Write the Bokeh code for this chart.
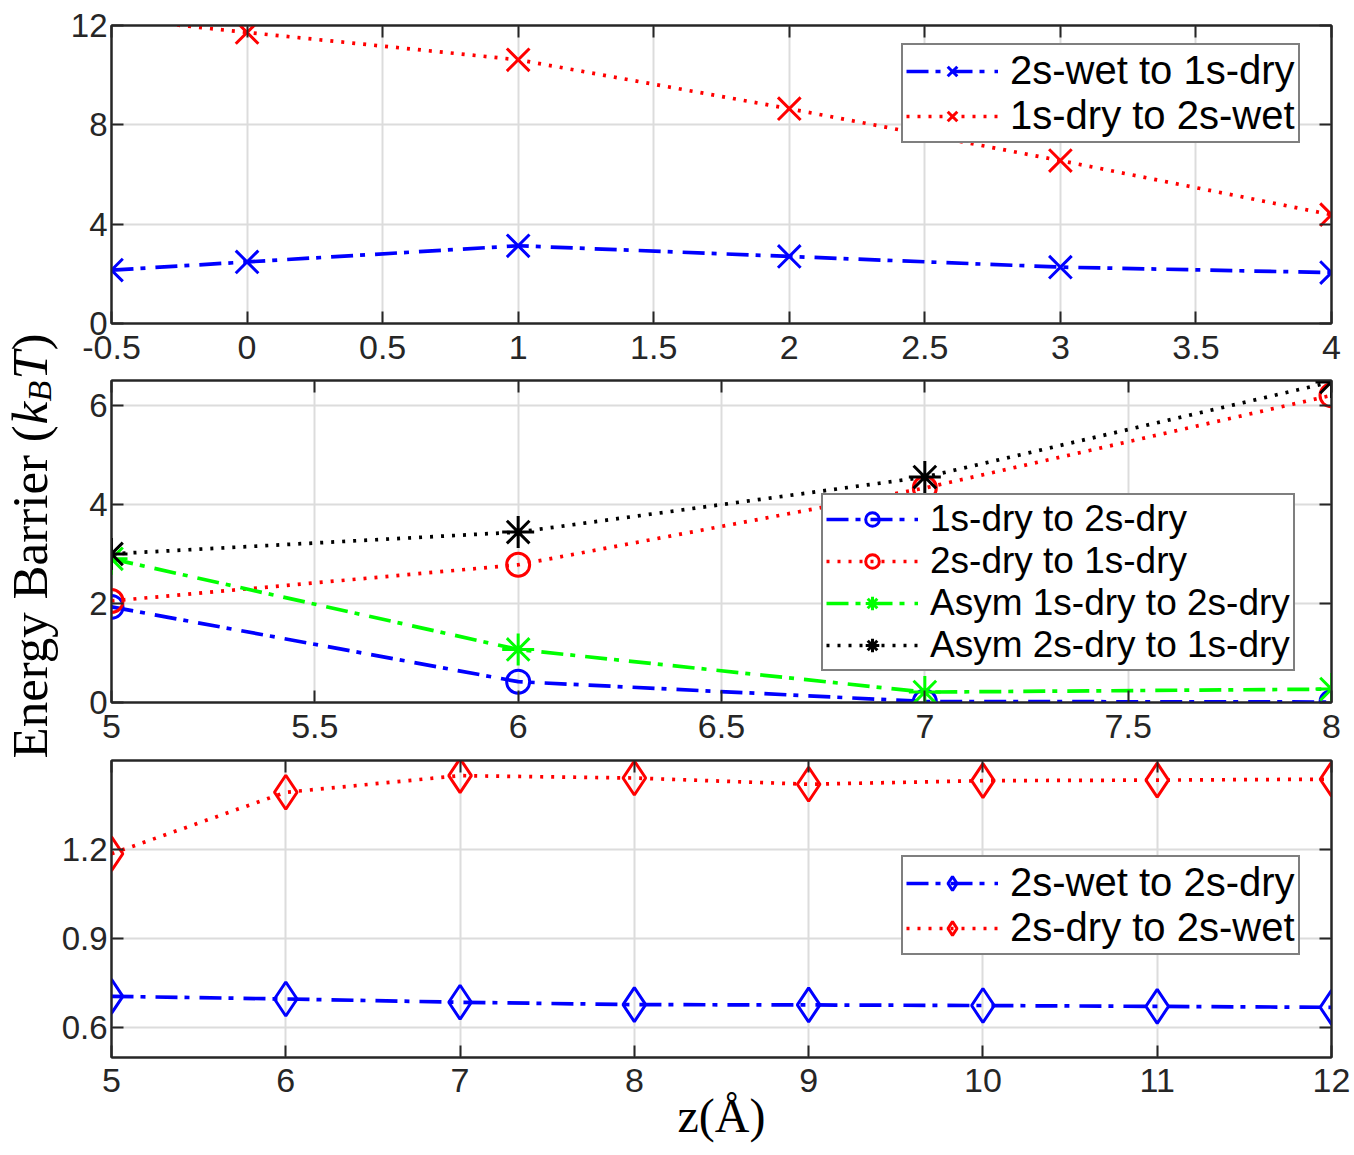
import math
from bokeh.plotting import figure
from bokeh.layouts import row, column
from bokeh.models import (Range1d, FixedTicker, LinearAxis, Legend, LegendItem,
                          Label, Grid, ColumnDataSource, CDSView, BooleanFilter)
from bokeh.embed import file_html
from bokeh.resources import INLINE

# ---------------- data ----------------
# Panel 1
z1 = [-0.5, 0, 1, 2, 3, 4]
wet2_to_dry1 = [2.15, 2.48, 3.13, 2.70, 2.27, 2.05]
dry1_to_wet2 = [12.3, 11.72, 10.62, 8.65, 6.56, 4.38]
# Panel 2
z2 = [5, 6, 7, 8]
dry1_to_dry2 = [1.93, 0.42, 0.02, 0.01]
dry2_to_dry1 = [2.05, 2.78, 4.33, 6.20]
asym_dry1_to_dry2 = [2.90, 1.07, 0.21, 0.27]
asym_dry2_to_dry1 = [3.00, 3.44, 4.55, 6.47]
# Panel 3
z3 = [5, 6, 7, 8, 9, 10, 11, 12]
wet2_to_dry2 = [0.706, 0.697, 0.686, 0.678, 0.677, 0.675, 0.672, 0.669]
dry2_to_wet2 = [1.186, 1.393, 1.449, 1.441, 1.420, 1.432, 1.434, 1.437]

# ticks
x1_ticks = [-0.5, 0, 0.5, 1, 1.5, 2, 2.5, 3, 3.5, 4]
x1_labels = ["-0.5", "0", "0.5", "1", "1.5", "2", "2.5", "3", "3.5", "4"]
y1_ticks = [0, 4, 8, 12]
y1_labels = ["0", "4", "8", "12"]
x2_ticks = [5, 5.5, 6, 6.5, 7, 7.5, 8]
x2_labels = ["5", "5.5", "6", "6.5", "7", "7.5", "8"]
y2_ticks = [0, 2, 4, 6]
y2_labels = ["0", "2", "4", "6"]
x3_ticks = [5, 6, 7, 8, 9, 10, 11, 12]
x3_labels = ["5", "6", "7", "8", "9", "10", "11", "12"]
y3_ticks = [0.6, 0.9, 1.2]
y3_labels = ["0.6", "0.9", "1.2"]

legend1 = ["2s-wet to 1s-dry", "1s-dry to 2s-wet"]
legend2 = ["1s-dry to 2s-dry", "2s-dry to 1s-dry", "Asym 1s-dry to 2s-dry", "Asym 2s-dry to 1s-dry"]
legend3 = ["2s-wet to 2s-dry", "2s-dry to 2s-wet"]
x_title = "z(Å)"

AX = "#262626"
TICK_FONT = "Liberation Sans"
SERIF = "Liberation Serif"
DASHDOT = "22 7 5 10"
DOT = "3 8"
LW = 3.7

STRIP_W = 58
BORDER_L = 50
BORDER_R = 23
PLOT_W = BORDER_L + 1223 + BORDER_R


def style_axis(ax, ticks, labels, show, standoff, fs):
    ax.ticker = FixedTicker(ticks=ticks)
    ax.axis_line_color = AX
    ax.axis_line_width = 2
    ax.major_tick_line_color = AX
    ax.major_tick_line_width = 2
    ax.major_tick_in = 12
    ax.major_tick_out = 0
    ax.minor_tick_line_color = None
    ax.major_label_text_font = TICK_FONT
    if show:
        ax.major_label_text_color = AX
        ax.major_label_text_font_size = fs
        ax.major_label_standoff = standoff
        ax.major_label_overrides = {t: l for t, l in zip(ticks, labels)}
    else:
        ax.major_label_text_color = None
        ax.major_label_text_font_size = "1px"
        ax.major_label_standoff = 0


def make_fig(xr, yr, xt, xl, yt, yl, height, bt, bb, xso):
    p = figure(width=PLOT_W, height=height,
               x_range=Range1d(*xr), y_range=Range1d(*yr),
               output_backend="svg", toolbar_location=None,
               x_axis_type=None, y_axis_type=None,
               min_border_left=BORDER_L, min_border_right=BORDER_R,
               min_border_top=bt, min_border_bottom=bb)
    p.outline_line_color = AX
    p.outline_line_width = 2
    p.background_fill_color = "white"
    p.border_fill_color = "white"
    axes = {}
    for side, ticks, labels, show, so, fs in [("below", xt, xl, True, xso, "34px"),
                                               ("left", yt, yl, True, 4, "33px"),
                                               ("above", xt, xl, False, 0, "1px"),
                                               ("right", yt, yl, False, 0, "1px")]:
        ax = LinearAxis()
        style_axis(ax, ticks, labels, show, so, fs)
        p.add_layout(ax, side)
        axes[side] = ax
    p.add_layout(Grid(dimension=0, ticker=FixedTicker(ticks=xt),
                      grid_line_color="#dcdcdc", grid_line_width=2))
    p.add_layout(Grid(dimension=1, ticker=FixedTicker(ticks=yt),
                      grid_line_color="#dcdcdc", grid_line_width=2))
    return p, axes


def series(p, x, y, color, dash, marker, size):
    src = ColumnDataSource(dict(x=x, y=y))
    lr = p.line("x", "y", source=src, line_color=color, line_width=LW, line_dash=dash)
    lo, hi = p.y_range.start, p.y_range.end
    # markers whose centre lies outside the axes are not drawn (as in the original)
    view = CDSView(filter=BooleanFilter([lo <= v <= hi for v in y]))
    sr = p.scatter("x", "y", source=src, view=view, marker=marker, size=size,
                   line_color=color, fill_color=None, line_width=3)
    return [lr, sr]


def make_legend(items, loc, fs):
    return Legend(items=items, location=loc, orientation="vertical",
                  label_text_font=TICK_FONT, label_text_font_size=fs,
                  label_text_color="black",
                  glyph_width=92, glyph_height=34, label_height=34,
                  label_standoff=12, spacing=0, padding=3, margin=0,
                  border_line_color="black", border_line_width=2,
                  background_fill_color="white", background_fill_alpha=1.0)


# ---------------- panel 1 ----------------
p1, a1 = make_fig((-0.5, 4), (0, 12), x1_ticks, x1_labels, y1_ticks, y1_labels, 379, 25, 56, 12)
r1a = series(p1, z1, wet2_to_dry1, "#0000ff", DASHDOT, "x", 32)
r1b = series(p1, z1, dry1_to_wet2, "#ff0000", DOT, "x", 32)
p1.add_layout(make_legend([LegendItem(label=legend1[0], renderers=r1a),
                           LegendItem(label=legend1[1], renderers=r1b)], (790, 180), "40px"))

# ---------------- panel 2 ----------------
p2, a2 = make_fig((5, 8), (0, 6.5), x2_ticks, x2_labels, y2_ticks, y2_labels, 379, 1, 56, 12)
r2a = series(p2, z2, dry1_to_dry2, "#0000ff", DASHDOT, "circle", 23)
r2b = series(p2, z2, dry2_to_dry1, "#ff0000", DOT, "circle", 23)
r2c = series(p2, z2, asym_dry1_to_dry2, "#00ff00", DASHDOT, "asterisk", 32)
r2d = series(p2, z2, asym_dry2_to_dry1, "#000000", DOT, "asterisk", 32)
p2.add_layout(make_legend([LegendItem(label=legend2[0], renderers=r2a),
                           LegendItem(label=legend2[1], renderers=r2b),
                           LegendItem(label=legend2[2], renderers=r2c),
                           LegendItem(label=legend2[3], renderers=r2d)], (710, 31), "37px"))

# ---------------- panel 3 ----------------
p3, a3 = make_fig((5, 12), (0.5, 1.5), x3_ticks, x3_labels, y3_ticks, y3_labels, 395, 2, 96, 11)
r3a = series(p3, z3, wet2_to_dry2, "#0000ff", DASHDOT, "diamond", 34)
r3b = series(p3, z3, dry2_to_wet2, "#ff0000", DOT, "diamond", 34)
p3.add_layout(make_legend([LegendItem(label=legend3[0], renderers=r3a),
                           LegendItem(label=legend3[1], renderers=r3b)], (790, 102), "40px"))

xa = a3["below"]
xa.axis_label = x_title
xa.axis_label_text_font = SERIF
xa.axis_label_text_font_size = "48px"
xa.axis_label_text_font_style = "normal"
xa.axis_label_text_color = "black"
xa.axis_label_standoff = -6

# ---------------- y label strip ----------------
STRIP_H = 1153
pl = figure(width=STRIP_W, height=STRIP_H, x_range=Range1d(0, STRIP_W), y_range=Range1d(0, STRIP_H),
            output_backend="svg", toolbar_location=None,
            x_axis_type=None, y_axis_type=None, min_border=0)
pl.outline_line_color = None
pl.background_fill_color = "white"
pl.border_fill_color = "white"

ylabel_parts = [
    ("Energy Barrier (", "normal", "51px", 29, 395),
    ("k", "italic", "51px", 29, 729),
    ("B", "italic", "34px", 39, 752),
    ("T", "italic", "51px", 29, 774),
    (")", "normal", "51px", 29, 803),
]
for txt, style, size, xx, yy in ylabel_parts:
    pl.add_layout(Label(x=xx, y=yy, x_units="screen", y_units="screen", text=txt,
                        angle=math.pi / 2, text_align="left", text_baseline="middle",
                        text_font=SERIF, text_font_style=style,
                        text_font_size=size, text_color="black"))

layout = row(pl, column(p1, p2, p3))

open("out.html", "w").write(file_html(layout, INLINE, "Energy barrier"))
